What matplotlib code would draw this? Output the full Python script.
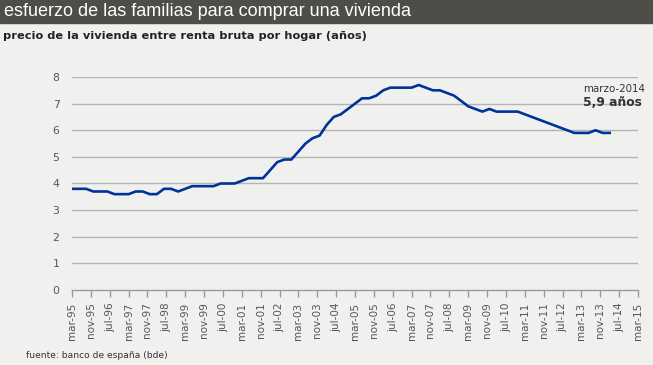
#!/usr/bin/env python3
"""Esfuerzo de las familias: precio de la vivienda / renta bruta por hogar."""

import matplotlib

matplotlib.use("Agg")
import matplotlib.pyplot as plt

# quarterly series, mar-95 .. mar-14 (years of gross household income)
ratio = [
    3.8, 3.8, 3.8, 3.7, 3.7, 3.7, 3.6, 3.6,   # 1995-1996
    3.6, 3.7, 3.7, 3.6, 3.6, 3.8, 3.8, 3.7,   # 1997-1998
    3.8, 3.9, 3.9, 3.9, 3.9, 4.0, 4.0, 4.0,   # 1999-2000
    4.1, 4.2, 4.2, 4.2, 4.5, 4.8, 4.9, 4.9,   # 2001-2002
    5.2, 5.5, 5.7, 5.8, 6.2, 6.5, 6.6, 6.8,   # 2003-2004
    7.0, 7.2, 7.2, 7.3, 7.5, 7.6, 7.6, 7.6,   # 2005-2006
    7.6, 7.7, 7.6, 7.5, 7.5, 7.4, 7.3, 7.1,   # 2007-2008
    6.9, 6.8, 6.7, 6.8, 6.7, 6.7, 6.7, 6.7,   # 2009-2010
    6.6, 6.5, 6.4, 6.3, 6.2, 6.1, 6.0, 5.9,   # 2011-2012
    5.9, 5.9, 6.0, 5.9, 5.9,                  # 2013-mar 2014
]
# months elapsed since mar-95 for each quarterly observation
months = [3 * i for i in range(len(ratio))]

tick_labels = [
    "mar-95", "nov-95", "jul-96", "mar-97", "nov-97", "jul-98", "mar-99",
    "nov-99", "jul-00", "mar-01", "nov-01", "jul-02", "mar-03", "nov-03",
    "jul-04", "mar-05", "nov-05", "jul-06", "mar-07", "nov-07", "jul-08",
    "mar-09", "nov-09", "jul-10", "mar-11", "nov-11", "jul-12", "mar-13",
    "nov-13", "jul-14", "mar-15",
]
tick_months = [8 * i for i in range(len(tick_labels))]
y_ticks = [0, 1, 2, 3, 4, 5, 6, 7, 8]

BG = "#f0f1ef"
BAR = "#4f4d47"
LINE = "#003399"
GRID = "#b4b4b4"
TEXT = "#555555"

fig = plt.figure(figsize=(6.53, 3.65), dpi=100, facecolor=BG)

# title band
fig.patches.append(plt.Rectangle((0, 1 - 23 / 365), 1, 23 / 365, transform=fig.transFigure,
                                 color=BAR, zorder=0))
fig.text(4 / 653, 1 - 12 / 365, "esfuerzo de las familias para comprar una vivienda",
         color="white", fontsize=13, family="Liberation Sans", va="center", ha="left")
fig.text(3 / 653, 1 - 36 / 365, "precio de la vivienda entre renta bruta por hogar (años)",
         color="#222222", fontsize=8.2, weight="bold", family="DejaVu Sans", va="center", ha="left")
fig.text(26 / 653, 1 - 355 / 365, "fuente: banco de españa (bde)",
         color="#333333", fontsize=6.6, family="DejaVu Sans", va="center", ha="left")

ax = fig.add_axes([72 / 653, 1 - 290 / 365, 566 / 653, 213 / 365])
ax.set_facecolor(BG)
ax.plot(months, ratio, color=LINE, lw=1.9, solid_joinstyle="round", zorder=3)

ax.set_xlim(0, tick_months[-1])
ax.set_ylim(0, 8)
ax.set_yticks(y_ticks)
ax.set_xticks(tick_months)
ax.set_xticklabels(tick_labels, rotation=90, fontsize=7.5, color=TEXT)
ax.tick_params(axis="y", length=0, pad=9, labelsize=7.8, labelcolor=TEXT)
ax.tick_params(axis="x", length=5, width=1, color="#999999", direction="out", pad=4)
for v in y_ticks[1:]:
    ax.axhline(v, color=GRID, lw=1.0, zorder=1)
for side in ("left", "right", "top"):
    ax.spines[side].set_visible(False)
ax.spines["bottom"].set_color("#999999")
ax.spines["bottom"].set_linewidth(1.0)

# last value callout
fig.text(583 / 653, 1 - 89 / 365, "marzo-2014", fontsize=7.4, color="#333333",
         family="DejaVu Sans", va="center", ha="left")
fig.text(583 / 653, 1 - 103 / 365, f"{ratio[-1]:.1f} años".replace(".", ","),
         fontsize=8.8, weight="bold", color="#333333", family="DejaVu Sans", va="center", ha="left")

fig.savefig("out.png", dpi=100, facecolor=BG)
